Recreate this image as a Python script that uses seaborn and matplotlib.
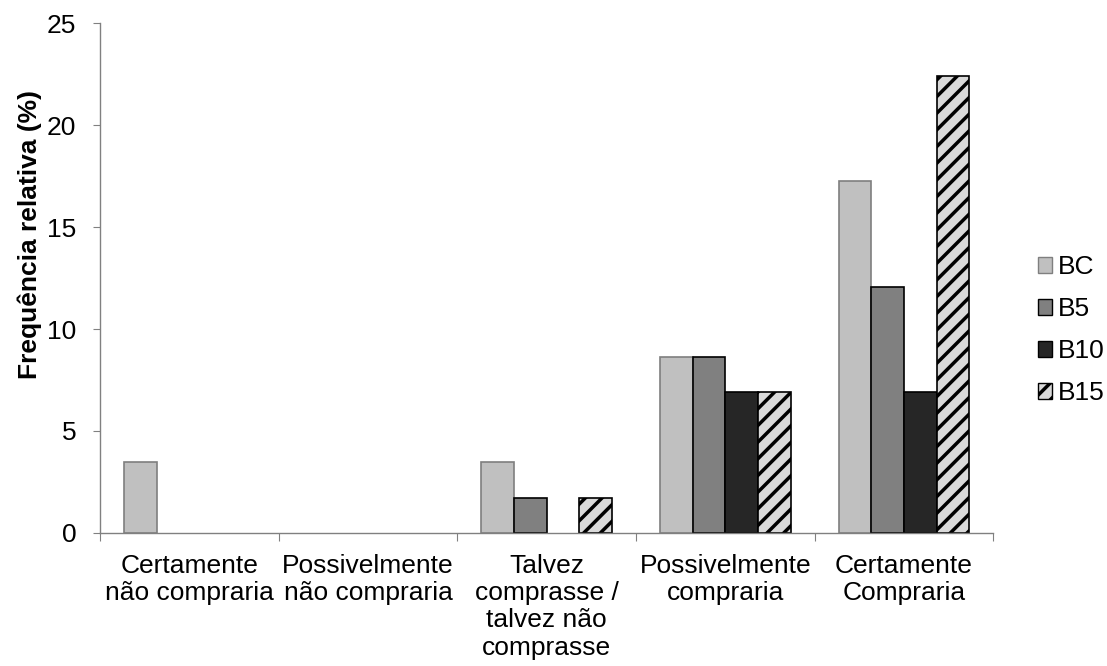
import pandas as pd
import numpy as np
import matplotlib.pyplot as plt
import matplotlib.patches as mpatches
import seaborn as sns

# Data
categorias = ['Certamente\nnão compraria', 'Possivelmente\nnão compraria',
              'Talvez\ncomprasse /\ntalvez não\ncomprasse', 'Possivelmente\ncompraria',
              'Certamente\nCompraria']
series = ['BC', 'B5', 'B10', 'B15']
bc = [3.45, 0, 3.45, 8.62, 17.24]
b5 = [0, 0, 1.72, 8.62, 12.07]
b10 = [0, 0, 0, 6.90, 6.90]
b15 = [0, 0, 1.72, 6.90, 22.41]

rows = []
for nome, vals in zip(series, [bc, b5, b10, b15]):
    for cat, v in zip(categorias, vals):
        rows.append({'cat': cat, 'serie': nome, 'val': v})
df = pd.DataFrame(rows)

cores = {'BC': '#c0c0c0', 'B5': '#808080', 'B10': '#262626', 'B15': '#d9d9d9'}
bordas = {'BC': '#7f7f7f', 'B5': '#000000', 'B10': '#000000', 'B15': '#000000'}
hatches = {'BC': '', 'B5': '', 'B10': '', 'B15': '//'}

sns.set_style('white')
plt.rcParams['font.family'] = ['Liberation Sans', 'DejaVu Sans']
plt.rcParams['hatch.linewidth'] = 2.5
plt.rcParams['text.color'] = 'black'
plt.rcParams['axes.labelcolor'] = 'black'

fig = plt.figure(figsize=(11.07, 6.66), dpi=100)
ax = fig.add_axes([0.0903, 0.2, 0.807, 0.765])

sns.barplot(data=df, x='cat', y='val', hue='serie', hue_order=series,
            palette=cores, width=0.73, ax=ax, legend=False, saturation=1)

for nome, cont in zip(series, ax.containers):
    for p in cont:
        p.set_edgecolor(bordas[nome])
        p.set_linewidth(1.2)
        p.set_hatch(hatches[nome])
        if p.get_height() == 0:
            p.set_visible(False)

ax.set_ylim(0, 25)
ax.set_xlim(-0.5, len(categorias) - 0.5)
ax.set_yticks(range(0, 26, 5))
ax.tick_params(axis='y', labelsize=19, length=5, direction='out', left=True,
               color='#808080', labelcolor='black', pad=12)

# Excel-style ticks at category boundaries, labels centered
ax.set_xticks(np.arange(-0.5, len(categorias), 1))
ax.set_xticklabels([])
ax.tick_params(axis='x', which='major', length=6, direction='out', bottom=True, color='#808080')
ax.set_xticks(np.arange(len(categorias)), minor=True)
ax.set_xticklabels(categorias, minor=True, fontsize=19, linespacing=1.18)
ax.tick_params(axis='x', which='minor', length=0, pad=15, labelcolor='black')

ax.set_xlabel('')
ax.set_ylabel('Frequência relativa (%)', fontsize=19, fontweight='bold', color='black')
ax.yaxis.set_label_coords(-0.065, 0.586)

for s in ['top', 'right']:
    ax.spines[s].set_visible(False)
for s in ['left', 'bottom']:
    ax.spines[s].set_color('#808080')
    ax.spines[s].set_linewidth(1)

handles = [mpatches.Patch(facecolor=cores[n], edgecolor=bordas[n], hatch=hatches[n], label=n)
           for n in series]
ax.legend(handles=handles, loc='center left', bbox_to_anchor=(1.023, 0.398), frameon=False,
          fontsize=19, handlelength=0.55, handleheight=0.55, handletextpad=0.2,
          labelspacing=0.68, labelcolor='black')

fig.savefig('out.png', dpi=100)
